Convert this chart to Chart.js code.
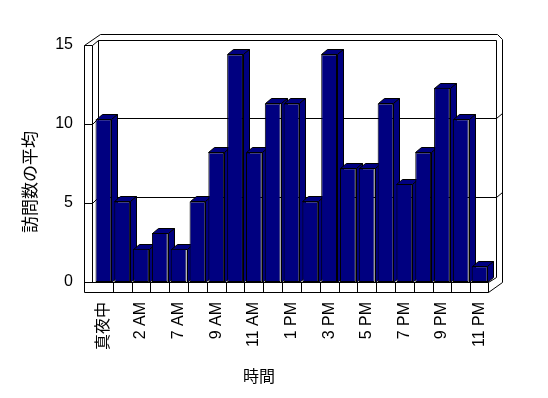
<!DOCTYPE html>
<html>
<head>
<meta charset="utf-8">
<script src="https://cdn.jsdelivr.net/npm/chart.js@4.4.0/dist/chart.umd.min.js"></script>
<style>
  body { margin: 0; background: #fff; }
  canvas { display: block; }
</style>
</head>
<body>
<canvas id="chart" width="548" height="398"></canvas>
<script>
// hours shown on the x axis (every other label is printed)
const hours = ['真夜中', '1 AM', '2 AM', '6 AM', '7 AM', '8 AM', '9 AM', '10 AM', '11 AM', '正午',
               '1 PM', '2 PM', '3 PM', '4 PM', '5 PM', '6 PM', '7 PM', '8 PM', '9 PM', '10 PM', '11 PM'];
// average number of visits per hour
const visits = [10.3, 5.1, 2.1, 3.1, 2.1, 5.1, 8.2, 14.4, 8.2, 11.3, 11.3,
                5.1, 14.4, 7.2, 7.2, 11.3, 6.2, 8.2, 12.3, 10.3, 1.0];
const yTicks = [0, 5, 10, 15];

const xTitle = '時間';
const yTitle = '訪問数の平均';

const NAVY = '#000080';
const DX = 6, DY = 5; // bar depth

const p = v => Math.round(v) + 0.5;

function poly(ctx, pts, fill) {
  ctx.beginPath();
  ctx.moveTo(p(pts[0][0]), p(pts[0][1]));
  for (let i = 1; i < pts.length; i++) ctx.lineTo(p(pts[i][0]), p(pts[i][1]));
  if (fill) { ctx.closePath(); ctx.fillStyle = fill; ctx.fill(); }
  ctx.stroke();
}

// walls, floor and the top/side faces of the bars
const box3d = {
  id: 'box3d',
  beforeDatasetsDraw(chart) {
    const { ctx, chartArea: ca, scales: { x, y } } = chart;
    const L = ca.left - 10, Li = L + 8, R = ca.right - 1;
    const top = y.getPixelForValue(yTicks[yTicks.length - 1]);
    const base = y.getPixelForValue(0), floorB = base + 10;
    const BL = L + 14, BT = top - 5, BR = R + 8, BB = base - 5;
    const OT = top - 11, OR = R + 14;

    ctx.save();
    ctx.strokeStyle = '#000';
    ctx.lineWidth = 1;

    // outer outline
    poly(ctx, [[L, floorB], [L, top], [L + 16, OT], [OR - 5, OT], [OR, OT + 5], [OR, base], [R, floorB], [L, floorB]]);
    // inner edges
    poly(ctx, [[L, top], [Li, top], [BL, BT], [BR, BT], [BR, BB], [R, base]]);
    poly(ctx, [[Li, top], [Li, base]]);
    poly(ctx, [[BL, BT], [BL, BB]]);
    // floor front
    poly(ctx, [[L, base], [R, base], [R, floorB]]);
    for (let i = 1; i < hours.length; i++) {
      const xb = (x.getPixelForValue(i - 1) + x.getPixelForValue(i)) / 2;
      poly(ctx, [[xb, base], [xb, floorB]]);
    }
    // grid lines
    yTicks.slice(1, -1).forEach(v => {
      const yf = y.getPixelForValue(v), yb = yf - 6;
      poly(ctx, [[L, yf], [Li, yf], [BL, yb], [BR, yb], [OR, yb - 5]]);
    });

    // bar tops and sides
    chart.getDatasetMeta(0).data.forEach(el => {
      const { x: cx, y: ty, base: by, width: w } = el.getProps(['x', 'y', 'base', 'width'], true);
      const l = cx - w / 2, r = cx + w / 2;
      poly(ctx, [[l, ty], [r, ty], [r + DX, ty - DY], [l + DX, ty - DY]], NAVY);
      poly(ctx, [[r, ty], [r + DX, ty - DY], [r + DX, by - DY], [r, by]], NAVY);
    });
    ctx.restore();
  },
  afterDraw(chart) {
    const { ctx } = chart;
    ctx.save();
    ctx.fillStyle = '#000';
    ctx.textAlign = 'center';
    ctx.textBaseline = 'middle';
    ctx.font = '16px "Noto Sans CJK JP"';
    ctx.fillText(xTitle, 259, 376);
    ctx.font = '17px "Noto Sans CJK JP"';
    ctx.translate(30, 182);
    ctx.rotate(-Math.PI / 2);
    ctx.fillText(yTitle, 0, 0);
    ctx.restore();
  }
};

new Chart(document.getElementById('chart'), {
  type: 'bar',
  data: {
    labels: hours,
    datasets: [{
      data: visits,
      backgroundColor: NAVY,
      borderColor: '#000',
      borderWidth: 1,
      borderSkipped: false,
      categoryPercentage: 1,
      barPercentage: 0.84
    }]
  },
  options: {
    responsive: false,
    animation: false,
    layout: { padding: { left: 0, top: 45, right: 59, bottom: 0 } },
    plugins: { legend: { display: false }, tooltip: { enabled: false } },
    scales: {
      x: {
        grid: { display: false, drawTicks: false },
        border: { display: false },
        ticks: {
          autoSkip: false,
          minRotation: 90,
          maxRotation: 90,
          padding: 20,
          color: '#000',
          font: { family: '"Liberation Sans", "Noto Sans CJK JP", sans-serif', size: 16 },
          callback: (v, i) => (i % 2 === 0 ? hours[i] : '')
        },
        afterFit: s => { s.height = 116; }
      },
      y: {
        min: 0,
        max: 15,
        grid: { display: false, drawTicks: false },
        border: { display: false },
        ticks: {
          stepSize: 5,
          padding: 21,
          color: '#000',
          font: { family: '"Liberation Sans", sans-serif', size: 16 }
        },
        afterFit: s => { s.width = 94; }
      }
    }
  },
  plugins: [box3d]
});
</script>
</body>
</html>
